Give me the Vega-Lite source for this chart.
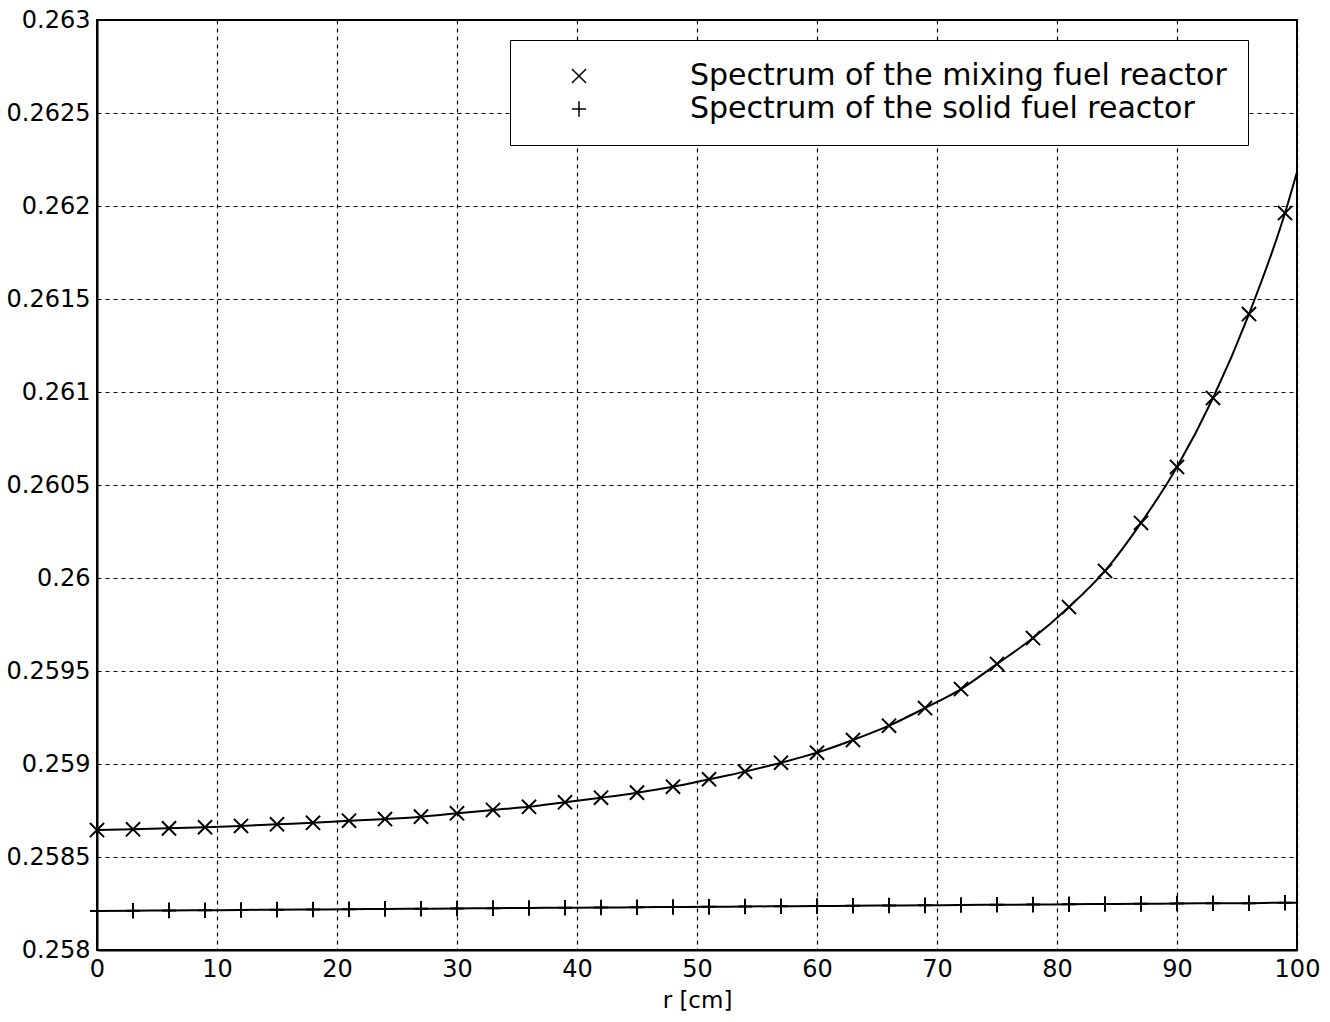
{
  "$schema": "https://vega.github.io/schema/vega-lite/v6.json",
  "autosize": {"type": "none"},
  "width": 1200,
  "height": 930,
  "padding": {"left": 97, "top": 20, "right": 33, "bottom": 72},
  "background": "white",
  "config": {
    "font": "DejaVu Sans",
    "view": {"stroke": "black", "strokeWidth": 2},
    "axis": {
      "labelFont": "DejaVu Sans",
      "labelFontSize": 24,
      "labelColor": "black",
      "titleFont": "DejaVu Sans",
      "titleFontSize": 23,
      "titleFontWeight": "normal",
      "titleColor": "black",
      "domainColor": "black",
      "domainWidth": 2,
      "tickSize": 0,
      "grid": true,
      "gridColor": "black",
      "gridOpacity": 1,
      "gridWidth": 1.2,
      "gridDash": [4, 4]
    }
  },
  "data": {
    "values": [
      {"series": "Spectrum of the mixing fuel reactor", "r": 0, "v": 0.258645},
      {"series": "Spectrum of the mixing fuel reactor", "r": 3, "v": 0.258649},
      {"series": "Spectrum of the mixing fuel reactor", "r": 6, "v": 0.258654},
      {"series": "Spectrum of the mixing fuel reactor", "r": 9, "v": 0.258660},
      {"series": "Spectrum of the mixing fuel reactor", "r": 12, "v": 0.258667},
      {"series": "Spectrum of the mixing fuel reactor", "r": 15, "v": 0.258676},
      {"series": "Spectrum of the mixing fuel reactor", "r": 18, "v": 0.258684},
      {"series": "Spectrum of the mixing fuel reactor", "r": 21, "v": 0.258695},
      {"series": "Spectrum of the mixing fuel reactor", "r": 24, "v": 0.258704},
      {"series": "Spectrum of the mixing fuel reactor", "r": 27, "v": 0.258717},
      {"series": "Spectrum of the mixing fuel reactor", "r": 30, "v": 0.258735},
      {"series": "Spectrum of the mixing fuel reactor", "r": 33, "v": 0.258753},
      {"series": "Spectrum of the mixing fuel reactor", "r": 36, "v": 0.258770},
      {"series": "Spectrum of the mixing fuel reactor", "r": 39, "v": 0.258794},
      {"series": "Spectrum of the mixing fuel reactor", "r": 42, "v": 0.258819},
      {"series": "Spectrum of the mixing fuel reactor", "r": 45, "v": 0.258846},
      {"series": "Spectrum of the mixing fuel reactor", "r": 48, "v": 0.258878},
      {"series": "Spectrum of the mixing fuel reactor", "r": 51, "v": 0.258918},
      {"series": "Spectrum of the mixing fuel reactor", "r": 54, "v": 0.258959},
      {"series": "Spectrum of the mixing fuel reactor", "r": 57, "v": 0.259007},
      {"series": "Spectrum of the mixing fuel reactor", "r": 60, "v": 0.259061},
      {"series": "Spectrum of the mixing fuel reactor", "r": 63, "v": 0.259129},
      {"series": "Spectrum of the mixing fuel reactor", "r": 66, "v": 0.259206},
      {"series": "Spectrum of the mixing fuel reactor", "r": 69, "v": 0.259301},
      {"series": "Spectrum of the mixing fuel reactor", "r": 72, "v": 0.259403},
      {"series": "Spectrum of the mixing fuel reactor", "r": 75, "v": 0.259538},
      {"series": "Spectrum of the mixing fuel reactor", "r": 78, "v": 0.259677},
      {"series": "Spectrum of the mixing fuel reactor", "r": 81, "v": 0.259844},
      {"series": "Spectrum of the mixing fuel reactor", "r": 84, "v": 0.260038},
      {"series": "Spectrum of the mixing fuel reactor", "r": 87, "v": 0.260296},
      {"series": "Spectrum of the mixing fuel reactor", "r": 90, "v": 0.260597},
      {"series": "Spectrum of the mixing fuel reactor", "r": 93, "v": 0.260968},
      {"series": "Spectrum of the mixing fuel reactor", "r": 96, "v": 0.261419},
      {"series": "Spectrum of the mixing fuel reactor", "r": 99, "v": 0.261962},
      {"series": "Spectrum of the mixing fuel reactor", "r": 100, "v": 0.262183},
      {"series": "Spectrum of the solid fuel reactor", "r": 0, "v": 0.258210},
      {"series": "Spectrum of the solid fuel reactor", "r": 3, "v": 0.258211},
      {"series": "Spectrum of the solid fuel reactor", "r": 6, "v": 0.258213},
      {"series": "Spectrum of the solid fuel reactor", "r": 9, "v": 0.258214},
      {"series": "Spectrum of the solid fuel reactor", "r": 12, "v": 0.258215},
      {"series": "Spectrum of the solid fuel reactor", "r": 15, "v": 0.258217},
      {"series": "Spectrum of the solid fuel reactor", "r": 18, "v": 0.258218},
      {"series": "Spectrum of the solid fuel reactor", "r": 21, "v": 0.258219},
      {"series": "Spectrum of the solid fuel reactor", "r": 24, "v": 0.258221},
      {"series": "Spectrum of the solid fuel reactor", "r": 27, "v": 0.258222},
      {"series": "Spectrum of the solid fuel reactor", "r": 30, "v": 0.258223},
      {"series": "Spectrum of the solid fuel reactor", "r": 33, "v": 0.258225},
      {"series": "Spectrum of the solid fuel reactor", "r": 36, "v": 0.258226},
      {"series": "Spectrum of the solid fuel reactor", "r": 39, "v": 0.258227},
      {"series": "Spectrum of the solid fuel reactor", "r": 42, "v": 0.258228},
      {"series": "Spectrum of the solid fuel reactor", "r": 45, "v": 0.258230},
      {"series": "Spectrum of the solid fuel reactor", "r": 48, "v": 0.258231},
      {"series": "Spectrum of the solid fuel reactor", "r": 51, "v": 0.258232},
      {"series": "Spectrum of the solid fuel reactor", "r": 54, "v": 0.258234},
      {"series": "Spectrum of the solid fuel reactor", "r": 57, "v": 0.258235},
      {"series": "Spectrum of the solid fuel reactor", "r": 60, "v": 0.258236},
      {"series": "Spectrum of the solid fuel reactor", "r": 63, "v": 0.258238},
      {"series": "Spectrum of the solid fuel reactor", "r": 66, "v": 0.258239},
      {"series": "Spectrum of the solid fuel reactor", "r": 69, "v": 0.258240},
      {"series": "Spectrum of the solid fuel reactor", "r": 72, "v": 0.258242},
      {"series": "Spectrum of the solid fuel reactor", "r": 75, "v": 0.258243},
      {"series": "Spectrum of the solid fuel reactor", "r": 78, "v": 0.258244},
      {"series": "Spectrum of the solid fuel reactor", "r": 81, "v": 0.258246},
      {"series": "Spectrum of the solid fuel reactor", "r": 84, "v": 0.258247},
      {"series": "Spectrum of the solid fuel reactor", "r": 87, "v": 0.258248},
      {"series": "Spectrum of the solid fuel reactor", "r": 90, "v": 0.258250},
      {"series": "Spectrum of the solid fuel reactor", "r": 93, "v": 0.258251},
      {"series": "Spectrum of the solid fuel reactor", "r": 96, "v": 0.258252},
      {"series": "Spectrum of the solid fuel reactor", "r": 99, "v": 0.258254},
      {"series": "Spectrum of the solid fuel reactor", "r": 100, "v": 0.258254}
    ]
  },
  "encoding": {
    "x": {
      "field": "r",
      "type": "quantitative",
      "title": "r [cm]",
      "scale": {"domain": [0, 100], "nice": false, "zero": false},
      "axis": {
        "values": [0, 10, 20, 30, 40, 50, 60, 70, 80, 90, 100],
        "labelPadding": 7,
        "titlePadding": 8,
        "labelFlush": false
      }
    },
    "y": {
      "field": "v",
      "type": "quantitative",
      "title": null,
      "scale": {"domain": [0.258, 0.263], "nice": false, "zero": false},
      "axis": {
        "values": [0.258, 0.2585, 0.259, 0.2595, 0.26, 0.2605, 0.261, 0.2615, 0.262, 0.2625, 0.263],
        "format": ".4~f",
        "labelPadding": 7,
        "labelFlush": false
      }
    }
  },
  "layer": [
    {
      "mark": {"type": "line", "color": "black", "strokeWidth": 2, "interpolate": "monotone"},
      "encoding": {"detail": {"field": "series"}}
    },
    {
      "transform": [{"filter": "datum.r <= 99"}],
      "mark": {"type": "point", "filled": false, "stroke": "black", "strokeWidth": 2, "opacity": 1, "size": 200},
      "encoding": {
        "shape": {
          "field": "series",
          "type": "nominal",
          "scale": {
            "domain": ["Spectrum of the mixing fuel reactor", "Spectrum of the solid fuel reactor"],
            "range": ["M-1,-1L1,1M-1,1L1,-1", "M-1,0L1,0M0,-1.1L0,1.1"]
          },
          "legend": {
            "title": null,
            "orient": "none",
            "legendX": 413,
            "legendY": 20,
            "strokeColor": "black",
            "fillColor": "white",
            "padding": 21,
            "rowPadding": 3,
            "symbolSize": 200,
            "symbolStrokeColor": "black",
            "symbolFillColor": "transparent",
            "symbolStrokeWidth": 1.5,
            "symbolOffset": 33,
            "labelOffset": 96,
            "labelFont": "DejaVu Sans",
            "labelFontSize": 30,
            "labelColor": "black",
            "labelLimit": 1000
          }
        }
      }
    }
  ]
}
